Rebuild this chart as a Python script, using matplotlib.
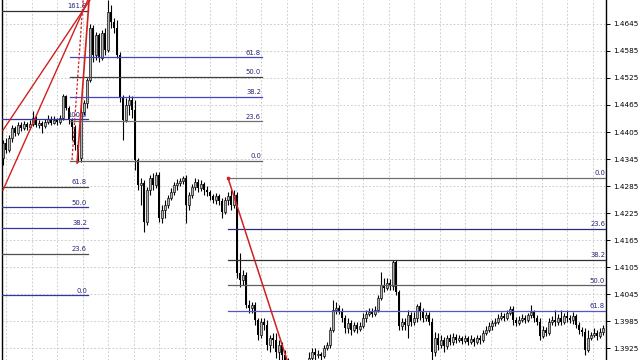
import numpy as np
import matplotlib
matplotlib.use('Agg')
from matplotlib import pyplot as plt

# OHLC bars (open of each bar = previous close)
first_open = 1.4347
close = [
    1.4380, 1.4365, 1.4392, 1.4414, 1.4403, 1.4420, 1.4414, 1.4423, 1.4416, 1.4423,
    1.4436, 1.4420, 1.4425, 1.4418, 1.4427, 1.4434, 1.4425, 1.4432, 1.4427, 1.4436,
    1.4485, 1.4458, 1.4432, 1.4416, 1.4376, 1.4347, 1.4449, 1.4469, 1.4520,
    1.4636, 1.4576, 1.4620, 1.4569, 1.4625, 1.4587, 1.4671, 1.4649, 1.4636, 1.4576,
    1.4480, 1.4432, 1.4465, 1.4476, 1.4454, 1.4343, 1.4287,
    1.4292, 1.4205, 1.4276, 1.4303, 1.4287, 1.4309, 1.4214, 1.4232, 1.4243, 1.4258,
    1.4272, 1.4287, 1.4292, 1.4296, 1.4303, 1.4243, 1.4265, 1.4283, 1.4294, 1.4281,
    1.4290, 1.4276, 1.4272, 1.4263, 1.4254, 1.4263, 1.4252, 1.4227, 1.4254, 1.4263,
    1.4243, 1.4265,
    1.4092, 1.4076, 1.4087, 1.4021, 1.4014, 1.4021, 1.3988, 1.3954, 1.3983, 1.3976,
    1.3932, 1.3948, 1.3943, 1.3917, 1.3932, 1.3910, 1.3894,
    1.3877, 1.3865, 1.3872, 1.3859, 1.3872, 1.3881, 1.3888, 1.3903, 1.3917, 1.3910,
    1.3912, 1.3908, 1.3925, 1.3932, 1.3965, 1.4010, 1.4014, 1.4008, 1.3992, 1.3970,
    1.3981, 1.3965, 1.3976, 1.3968, 1.3974, 1.3992, 1.4001, 1.4005, 1.4001, 1.4010,
    1.4036, 1.4065, 1.4059, 1.4070, 1.4063, 1.4116, 1.4050, 1.3974, 1.3983, 1.3976,
    1.3999, 1.3983, 1.3992, 1.4019, 1.4005,
    1.3992, 1.3999, 1.3983, 1.3917, 1.3948, 1.3932, 1.3943, 1.3930, 1.3948, 1.3939,
    1.3950, 1.3943, 1.3948, 1.3941, 1.3948, 1.3939, 1.3945, 1.3939, 1.3948, 1.3943,
    1.3959, 1.3965, 1.3974, 1.3981, 1.3983, 1.3992, 1.3996, 1.3992, 1.4003, 1.4012,
    1.3988, 1.3981, 1.3988, 1.3992, 1.3988, 1.3999, 1.4005, 1.3992, 1.3983, 1.3952,
    1.3965, 1.3959, 1.3983, 1.3988, 1.3983, 1.3992, 1.3983, 1.3996, 1.3992, 1.3988,
    1.3996, 1.3976, 1.3965, 1.3961, 1.3921, 1.3948, 1.3954, 1.3959, 1.3952, 1.3961,
    1.3970]
high = [
    1.4387, 1.4392, 1.4398, 1.4420, 1.4418, 1.4427, 1.4427, 1.4429, 1.4427, 1.4432,
    1.4452, 1.4440, 1.4432, 1.4429, 1.4434, 1.4443, 1.4440, 1.4440, 1.4436, 1.4443,
    1.4489, 1.4487, 1.4463, 1.4436, 1.4420, 1.4387, 1.4465, 1.4476, 1.4525,
    1.4645, 1.4642, 1.4627, 1.4625, 1.4631, 1.4636, 1.4698, 1.4687, 1.4658, 1.4654,
    1.4583, 1.4487, 1.4480, 1.4487, 1.4485, 1.4476, 1.4347,
    1.4303, 1.4298, 1.4283, 1.4309, 1.4314, 1.4316, 1.4316, 1.4243, 1.4254, 1.4265,
    1.4281, 1.4294, 1.4301, 1.4303, 1.4307, 1.4309, 1.4272, 1.4290, 1.4303, 1.4301,
    1.4298, 1.4294, 1.4285, 1.4276, 1.4267, 1.4270, 1.4267, 1.4258, 1.4261, 1.4272,
    1.4276, 1.4276,
    1.4272, 1.4136, 1.4099, 1.4094, 1.4032, 1.4028, 1.4028, 1.3992, 1.3992, 1.3992,
    1.3988, 1.3954, 1.3959, 1.3959, 1.3943, 1.3939, 1.3921,
    1.3903, 1.3888, 1.3881, 1.3881, 1.3885, 1.3890, 1.3899, 1.3917, 1.3925, 1.3925,
    1.3921, 1.3917, 1.3932, 1.3939, 1.3972, 1.4032, 1.4028, 1.4021, 1.4014, 1.3999,
    1.3992, 1.3988, 1.3983, 1.3983, 1.3983, 1.4003, 1.4010, 1.4014, 1.4014, 1.4019,
    1.4043, 1.4094, 1.4081, 1.4081, 1.4079, 1.4121, 1.4121, 1.4054, 1.3992, 1.3992,
    1.4010, 1.4005, 1.4005, 1.4023, 1.4028,
    1.4014, 1.4005, 1.4005, 1.3992, 1.3961, 1.3959, 1.3954, 1.3950, 1.3954, 1.3957,
    1.3959, 1.3957, 1.3954, 1.3952, 1.3954, 1.3952, 1.3954, 1.3950, 1.3954, 1.3954,
    1.3965, 1.3974, 1.3983, 1.3988, 1.3992, 1.4001, 1.4005, 1.4003, 1.4010, 1.4019,
    1.4019, 1.3994, 1.3996, 1.4001, 1.3999, 1.4003, 1.4021, 1.4010, 1.3999, 1.3992,
    1.3974, 1.3972, 1.3992, 1.3996, 1.4010, 1.4001, 1.4010, 1.4003, 1.4010, 1.3999,
    1.4005, 1.4001, 1.3983, 1.3972, 1.3970, 1.3965, 1.3961, 1.3970, 1.3965, 1.3970,
    1.3976]
low = [
    1.4332, 1.4358, 1.4361, 1.4383, 1.4396, 1.4398, 1.4407, 1.4409, 1.4409, 1.4412,
    1.4418, 1.4416, 1.4414, 1.4403, 1.4414, 1.4423, 1.4420, 1.4423, 1.4420, 1.4423,
    1.4432, 1.4454, 1.4423, 1.4387, 1.4365, 1.4338, 1.4338, 1.4443, 1.4458,
    1.4516, 1.4560, 1.4565, 1.4560, 1.4565, 1.4576, 1.4583, 1.4636, 1.4625, 1.4569,
    1.4472, 1.4387, 1.4427, 1.4443, 1.4436, 1.4321, 1.4276,
    1.4243, 1.4183, 1.4198, 1.4265, 1.4276, 1.4281, 1.4205, 1.4203, 1.4214, 1.4236,
    1.4254, 1.4265, 1.4276, 1.4285, 1.4290, 1.4203, 1.4232, 1.4258, 1.4276, 1.4272,
    1.4274, 1.4265, 1.4263, 1.4254, 1.4247, 1.4245, 1.4243, 1.4214, 1.4223, 1.4243,
    1.4232, 1.4236,
    1.4081, 1.4061, 1.4065, 1.4014, 1.4003, 1.4003, 1.3976, 1.3943, 1.3948, 1.3965,
    1.3921, 1.3917, 1.3925, 1.3903, 1.3899, 1.3888, 1.3877,
    1.3859, 1.3850, 1.3854, 1.3843, 1.3850, 1.3865, 1.3872, 1.3881, 1.3894, 1.3899,
    1.3903, 1.3899, 1.3903, 1.3921, 1.3925, 1.3961, 1.4001, 1.4001, 1.3983, 1.3959,
    1.3959, 1.3954, 1.3961, 1.3959, 1.3963, 1.3970, 1.3983, 1.3996, 1.3994, 1.3996,
    1.4005, 1.4032, 1.4050, 1.4054, 1.4054, 1.4054, 1.4043, 1.3965, 1.3965, 1.3965,
    1.3948, 1.3974, 1.3976, 1.3983, 1.3988,
    1.3983, 1.3985, 1.3976, 1.3899, 1.3908, 1.3921, 1.3925, 1.3917, 1.3923, 1.3932,
    1.3932, 1.3937, 1.3939, 1.3934, 1.3937, 1.3932, 1.3934, 1.3930, 1.3934, 1.3934,
    1.3939, 1.3954, 1.3961, 1.3965, 1.3974, 1.3979, 1.3988, 1.3985, 1.3988, 1.3999,
    1.3976, 1.3974, 1.3976, 1.3983, 1.3981, 1.3983, 1.3992, 1.3983, 1.3976, 1.3943,
    1.3948, 1.3952, 1.3954, 1.3976, 1.3974, 1.3976, 1.3976, 1.3979, 1.3983, 1.3981,
    1.3979, 1.3970, 1.3957, 1.3952, 1.3910, 1.3917, 1.3943, 1.3950, 1.3943, 1.3948,
    1.3954]

price_ticks = [1.3925, 1.3985, 1.4045, 1.4105, 1.4165, 1.4225, 1.4285,
               1.4345, 1.4405, 1.4465, 1.4525, 1.4585, 1.4645]

# fibo retracements: (bar from, bar to, price 0%, price 100%, levels, colours)
fibo_left_levels = [0.0, 23.6, 38.2, 50.0, 61.8, 100.0, 161.8]
fibo_left_colors = ['#3535a0', '#505050', '#3535a0', '#3535a0', '#404040', '#3535a0', '#303030']
fibo_top_levels = [0.0, 23.6, 38.2, 50.0, 61.8]
fibo_top_colors = ['#606060', '#707070', '#4545c0', '#404040', '#4545c0']
fibo_right_levels = [0.0, 23.6, 38.2, 50.0, 61.8]
fibo_right_colors = ['#707070', '#2a2a80', '#303030', '#606060', '#5555c8']
fibos = [
    (-0.4, 28.3, 1.4043, 1.4433, fibo_left_levels, fibo_left_colors),
    (22.3, 86.3, 1.4341, 1.4713, fibo_top_levels, fibo_top_colors),
    (75.0, 201.0, 1.4303, 1.3827, fibo_right_levels, fibo_right_colors),
]

# red trend / fan lines (bar, price)
trend_right = ([75.0, 98.2], [1.4303, 1.3827])
fan_1 = ([0.0, 29.0], [1.4409, 1.4698])
fan_2 = ([0.0, 28.3], [1.4276, 1.4698])
steep_solid = ([24.7, 28.7], [1.4336, 1.4698])
steep_dash = ([23.0, 26.7], [1.4343, 1.4698])

close = np.array(close)
high = np.array(high)
low = np.array(low)
n = min(len(close), len(high), len(low))
close, high, low = close[:n], high[:n], low[:n]
opens = np.concatenate([[first_open], close[:-1]])
high = np.maximum(high, np.maximum(opens, close))
low = np.minimum(low, np.minimum(opens, close))
x = np.arange(n)

fig = plt.figure(figsize=(6.4, 3.6), dpi=100)
ax = fig.add_axes([2 / 640, 0, 604 / 640, 1])
ax.set_xlim(-0.33, 201)
ax.set_ylim(1.3899, 1.4698)

grid_style = dict(color='#c8c8c8', lw=0.6, ls=(0, (2.2, 2.2)), zorder=0)
for gx in np.arange(1.07, 201, 8.5):
    ax.axvline(gx, **grid_style)
for p in price_ticks:
    ax.axhline(p, **grid_style)

# candles
up = close >= opens
bottom = np.minimum(opens, close)
height = np.maximum(np.abs(close - opens), 0.00006)
ax.vlines(x, low, high, color='black', lw=0.8, zorder=2)
ax.bar(x[up], height[up], bottom=bottom[up], width=0.85, facecolor='#b4b4b4',
       edgecolor='black', lw=0.45, zorder=2)
ax.bar(x[~up], height[~up], bottom=bottom[~up], width=0.85, color='black',
       lw=0, zorder=2)

# fibo levels
for x0, x1, p0, p100, levels, colors in fibos:
    for lvl, col in zip(levels, colors):
        p = p0 + (p100 - p0) * lvl / 100
        ax.plot([x0, x1], [p, p], color=col, lw=0.9, zorder=3)
        ax.text(x1 - 0.3, p + 0.00035, '%.1f' % lvl, ha='right', va='bottom',
                fontsize=4.9, color='#25257a', zorder=4)

red = '#d02020'
ax.plot(*trend_right, color=red, lw=1.1, zorder=4)
ax.plot(*fan_1, color=red, lw=1.0, zorder=4)
ax.plot(*fan_2, color=red, lw=1.0, zorder=4)
ax.plot(*steep_solid, color=red, lw=1.2, zorder=4)
ax.plot(*steep_dash, color=red, lw=0.9, ls=(0, (2, 1.5)), zorder=4)
ax.plot([trend_right[0][0]], [trend_right[1][0]], 's', color=red, ms=1.6, zorder=5)

ax.yaxis.tick_right()
ax.set_yticks(price_ticks)
ax.set_yticklabels(['%.4f' % p for p in price_ticks])
ax.tick_params(axis='y', direction='out', length=3, width=0.7, pad=2,
               labelsize=5.2, colors='black')
ax.set_xticks([])
for side in ['top', 'bottom']:
    ax.spines[side].set_visible(False)
for side in ['left', 'right']:
    ax.spines[side].set_linewidth(1.0)
    ax.spines[side].set_color('black')

fig.savefig('out.png', dpi=100)
